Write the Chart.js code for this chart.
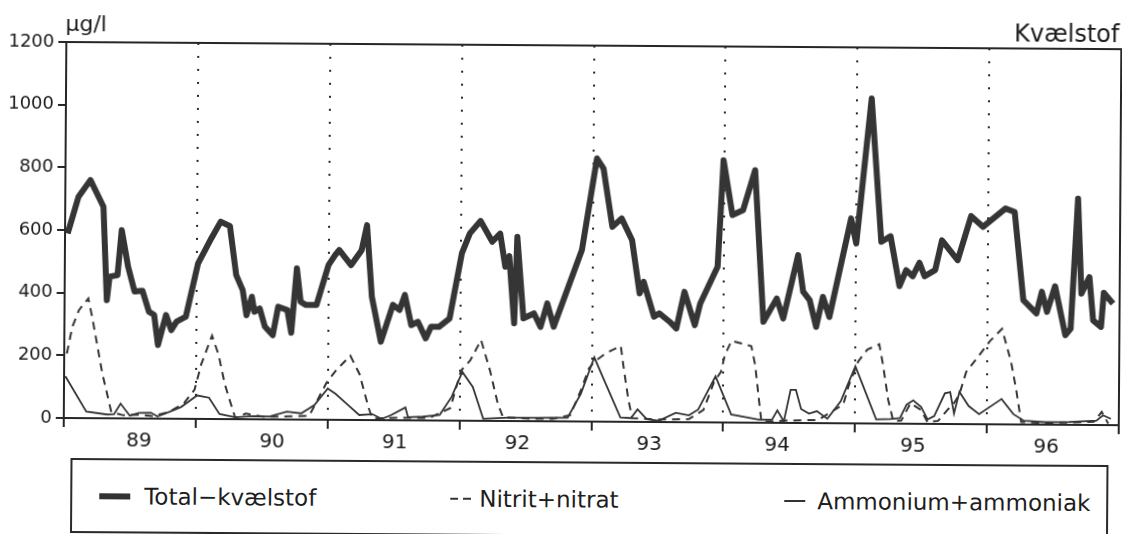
<!DOCTYPE html>
<html>
<head>
<meta charset="utf-8">
<script src="https://cdn.jsdelivr.net/npm/chart.js@4.4.0/dist/chart.umd.min.js"></script>
<style>
  html, body { margin: 0; padding: 0; background: #fff; }
  body { width: 1122px; height: 534px; overflow: hidden; font-family: "DejaVu Sans", sans-serif; color: #1e1e1e; }
  /* the scanned page is slightly tilted */
  #page { position: relative; width: 1122px; height: 534px; transform: rotate(0.39deg); transform-origin: 65px 240px; }
  #chart { position: absolute; left: 0; top: 0; }
  #legend { position: absolute; left: 72px; top: 458px; width: 1034px; height: 71px; border: 2px solid #2a2a2a; }
  .item { position: absolute; top: 0; height: 71px; display: flex; align-items: center; font-size: 23px; white-space: nowrap; }
  .item i { display: inline-block; }
  .item.total { left: 27px; }
  .item.total i { width: 31px; height: 6px; background: #333; margin-right: 14px; }
  .item.nit { left: 378px; }
  .item.nit i { width: 21px; height: 2px; margin-right: 8px; background: repeating-linear-gradient(90deg, #333 0 8px, transparent 8px 13px); }
  .item.amm { left: 712px; }
  .item.amm i { width: 21px; height: 2px; margin-right: 12px; background: #333; }
</style>
</head>
<body>
<div id="page">
  <canvas id="chart" width="1122" height="455"></canvas>
  <div id="legend"></div>
</div>
<script>
const unitText = 'µg/l';
const titleText = 'Kvælstof';
const yearLabels = ['89', '90', '91', '92', '93', '94', '95', '96'];
const yearLabelAt = [89.57, 90.58, 91.51, 92.44, 93.44, 94.41, 95.44, 96.45];

// Total-kvælstof
const totalYear = [89.02, 89.10, 89.19, 89.29, 89.32, 89.34, 89.40, 89.43, 89.48, 89.53, 89.59, 89.64, 89.68, 89.71, 89.77, 89.81, 89.85, 89.92,
  90.01, 90.11, 90.18, 90.25, 90.30, 90.35, 90.38, 90.42, 90.44, 90.48, 90.52, 90.58, 90.62, 90.69, 90.72, 90.76, 90.79, 90.83, 90.91,
  91.00, 91.05, 91.08, 91.17, 91.25, 91.29, 91.33, 91.40, 91.49, 91.54, 91.58, 91.63, 91.68, 91.74, 91.78, 91.84, 91.92,
  92.01, 92.07, 92.15, 92.24, 92.30, 92.34, 92.37, 92.41, 92.43, 92.48, 92.56, 92.61, 92.66, 92.71, 92.92,
  93.03, 93.08, 93.15, 93.22, 93.30, 93.36, 93.39, 93.47, 93.51, 93.59, 93.64, 93.70, 93.78, 93.82, 93.95, 93.99,
  94.06, 94.14, 94.23, 94.30, 94.40, 94.45, 94.56, 94.60, 94.65, 94.70, 94.75, 94.80, 94.96,
  95.00, 95.11, 95.19, 95.26, 95.33, 95.38, 95.43, 95.48, 95.52, 95.60, 95.65, 95.77, 95.87, 95.96,
  96.13, 96.20, 96.27, 96.37, 96.41, 96.45, 96.51, 96.59, 96.63, 96.68, 96.71, 96.77, 96.80, 96.86, 96.88, 96.95];
const totalN = [589, 706, 760, 675, 377, 452, 457, 601, 484, 405, 408, 341, 331, 235, 331, 283, 310, 326,
  496, 577, 630, 616, 460, 412, 332, 391, 343, 354, 296, 269, 360, 349, 277, 483, 376, 366, 366,
  494, 526, 542, 494, 542, 622, 393, 250, 368, 352, 400, 304, 315, 262, 299, 299, 326,
  534, 598, 638, 572, 598, 492, 526, 312, 588, 328, 344, 301, 376, 302, 547,
  840, 808, 622, 649, 580, 410, 447, 336, 347, 320, 299, 416, 310, 379, 497, 837,
  662, 678, 806, 322, 397, 333, 536, 419, 392, 307, 403, 339, 654,
  574, 1037, 580, 598, 439, 490, 471, 514, 471, 491, 586, 523, 664, 630,
  689, 678, 397, 355, 424, 360, 442, 286, 307, 722, 419, 472, 334, 313, 422, 388];

// Nitrit+nitrat
const nitYear = [89.02, 89.06, 89.11, 89.18, 89.21, 89.29, 89.36, 89.45, 89.57, 89.68, 89.80, 89.91, 89.99,
  90.04, 90.12, 90.17, 90.22, 90.30, 90.38, 90.52, 90.71, 90.86, 90.99,
  91.06, 91.17, 91.24, 91.31, 91.34, 91.54, 91.77, 91.93,
  92.01, 92.08, 92.16, 92.23, 92.29, 92.33, 92.53, 92.71, 92.84, 92.92, 92.98,
  93.02, 93.11, 93.22, 93.24, 93.28, 93.31, 93.51, 93.74, 93.85, 93.93, 93.98,
  94.01, 94.06, 94.21, 94.24, 94.27, 94.29, 94.50, 94.72, 94.91, 94.95,
  95.02, 95.09, 95.18, 95.21, 95.25, 95.29, 95.35, 95.42, 95.50, 95.55, 95.63, 95.70, 95.75, 95.79, 95.84, 95.92,
  96.02, 96.11, 96.18, 96.22, 96.26, 96.43, 96.66, 96.81, 96.87, 96.92];
const nitN = [206, 291, 345, 382, 323, 143, 20, 10, 12, 8, 22, 50, 93,
  175, 266, 206, 110, 4, 18, 8, 10, 12, 118,
  157, 205, 147, 40, 5, 8, 8, 40,
  160, 193, 258, 160, 55, 12, 8, 8, 20, 100, 170,
  191, 219, 242, 181, 71, 12, 8, 10, 40, 130, 161,
  216, 261, 244, 184, 74, 3, 8, 10, 60, 120,
  197, 236, 253, 186, 76, 8, 10, 66, 44, 5, 10, 45, 67, 95, 166, 210,
  266, 305, 200, 112, 8, 6, 8, 10, 42, 5];

// Ammonium+ammoniak
const ammYear = [89.01, 89.17, 89.33, 89.38, 89.43, 89.50, 89.57, 89.66, 89.71, 89.80, 89.89,
  90.01, 90.10, 90.18, 90.30, 90.43, 90.56, 90.69, 90.80, 90.90,
  91.00, 91.06, 91.14, 91.24, 91.34, 91.41, 91.48, 91.59, 91.61, 91.72, 91.85, 91.94,
  92.02, 92.10, 92.18, 92.37, 92.58, 92.82, 92.92,
  93.02, 93.10, 93.22, 93.30, 93.35, 93.42, 93.51, 93.64, 93.74, 93.81, 93.94,
  94.06, 94.27, 94.37, 94.41, 94.46, 94.51, 94.55, 94.59, 94.65, 94.71, 94.79, 94.89,
  95.00, 95.16, 95.27, 95.34, 95.39, 95.44, 95.50, 95.55, 95.60, 95.68, 95.72, 95.75, 95.79, 95.86, 95.94,
  96.11, 96.20, 96.28, 96.44, 96.62, 96.83, 96.88, 96.94];
const ammN = [133, 21, 12, 13, 47, 9, 18, 19, 7, 22, 38,
  75, 68, 16, 6, 10, 9, 25, 20, 47,
  100, 83, 53, 16, 19, 4, 16, 41, 10, 12, 18, 76,
  156, 108, 7, 11, 11, 12, 89,
  205, 128, 14, 12, 40, 9, 4, 30, 22, 41, 147,
  26, 10, 10, 40, 5, 106, 106, 45, 30, 38, 14, 70,
  182, 13, 15, 18, 61, 75, 54, 14, 25, 98, 102, 34, 103, 58, 32,
  81, 33, 12, 8, 9, 14, 31, 20];

const seriesNames = ['Total−kvælstof', 'Nitrit+nitrat', 'Ammonium+ammoniak'];
const ink = '#262626';
const lineInk = '#353535';

const toPoints = (xs, ys) => xs.map((x, i) => ({ x: x, y: ys[i] }));
const isDivider = v => Number.isInteger(v) && v > 89 && v < 97;

const framePlugin = {
  id: 'frame',
  afterDatasetsDraw(chart) {
    const { ctx, chartArea: a } = chart;
    ctx.save();
    ctx.strokeStyle = ink;
    ctx.lineWidth = 2;
    ctx.beginPath();
    ctx.moveTo(a.left, a.top);
    ctx.lineTo(a.right, a.top);
    ctx.lineTo(a.right, a.bottom);
    ctx.stroke();
    ctx.fillStyle = '#1a1a1a';
    ctx.textBaseline = 'alphabetic';
    ctx.font = '22px "DejaVu Sans"';
    ctx.textAlign = 'left';
    ctx.fillText(unitText, a.left - 1, a.top - 11);
    ctx.font = '24px "DejaVu Sans"';
    ctx.textAlign = 'right';
    ctx.fillText(titleText, a.right - 2, a.top - 7);
    ctx.restore();
  }
};

const chart = new Chart(document.getElementById('chart'), {
  type: 'line',
  data: {
    datasets: [
      {
        label: seriesNames[0],
        data: toPoints(totalYear, totalN),
        borderColor: lineInk,
        borderWidth: 6,
        borderJoinStyle: 'round',
        pointRadius: 0,
        tension: 0,
      },
      {
        label: seriesNames[1],
        data: toPoints(nitYear, nitN),
        borderColor: lineInk,
        borderWidth: 2,
        borderDash: [8, 6],
        pointRadius: 0,
        tension: 0,
      },
      {
        label: seriesNames[2],
        data: toPoints(ammYear, ammN),
        borderColor: lineInk,
        borderWidth: 1.8,
        pointRadius: 0,
        tension: 0,
      },
    ],
  },
  options: {
    responsive: false,
    animation: false,
    devicePixelRatio: 1,
    layout: { padding: { top: 42, right: 2, left: 0, bottom: 0 } },
    plugins: {
      legend: { display: false },
      tooltip: { enabled: false },
    },
    scales: {
      x: {
        type: 'linear',
        min: 89,
        max: 97,
        afterBuildTicks: scale => {
          const t = [];
          for (let v = 89; v <= 97; v++) t.push({ value: v });
          yearLabelAt.forEach(v => t.push({ value: v }));
          t.sort((a, b) => a.value - b.value);
          scale.ticks = t;
        },
        afterFit: scale => { scale.height = 37; },
        ticks: {
          autoSkip: false,
          maxRotation: 0,
          padding: 2,
          color: '#1a1a1a',
          font: { family: 'DejaVu Sans', size: 20 },
          callback: value => {
            const i = yearLabelAt.indexOf(value);
            return i >= 0 ? yearLabels[i] : '';
          },
        },
        grid: {
          lineWidth: 2,
          tickLength: 9,
          color: c => (c.tick && isDivider(c.tick.value) ? ink : 'rgba(0,0,0,0)'),
          tickColor: c => (c.tick && Number.isInteger(c.tick.value) ? ink : 'rgba(0,0,0,0)'),
        },
        border: { color: ink, width: 2, dash: [2, 11] },
      },
      y: {
        min: 0,
        max: 1200,
        afterFit: scale => { scale.width = 65; },
        ticks: {
          stepSize: 200,
          padding: 4,
          color: '#1a1a1a',
          font: { family: 'DejaVu Sans', size: 18 },
          callback: value => String(value),
        },
        grid: {
          drawOnChartArea: false,
          tickLength: 8,
          lineWidth: 2,
          color: ink,
        },
        border: { color: ink, width: 2 },
      },
    },
  },
  plugins: [framePlugin],
});

// legend box below the plot, built from the dataset labels
const legendClasses = ['total', 'nit', 'amm'];
document.getElementById('legend').innerHTML = chart.data.datasets
  .map((ds, i) => `<div class="item ${legendClasses[i]}"><i></i><span>${ds.label}</span></div>`)
  .join('');
</script>
</body>
</html>
